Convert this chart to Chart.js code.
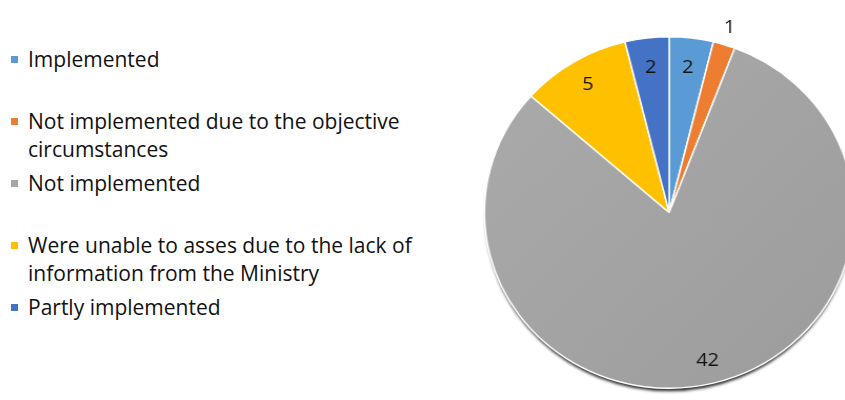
<!DOCTYPE html>
<html>
<head>
<meta charset="utf-8">
<script src="https://cdn.jsdelivr.net/npm/chart.js@4.4.1/dist/chart.umd.min.js"></script>
<style>
  html, body { margin: 0; padding: 0; background: #ffffff; overflow: hidden; width: 845px; height: 400px; }
  #legend { position: absolute; left: 11px; top: 45px; width: 440px; font-family: "Open Sans", Lato, sans-serif; font-size: 21px; color: #111111; }
  .item { position: relative; height: 62px; line-height: 28px; padding-left: 17px; }
  .sw { position: absolute; left: 0; top: 11px; width: 7px; height: 7px; }
  #wrap { position: absolute; left: 480px; top: 0; width: 360px; height: 400px; transform: scaleX(1.051); transform-origin: 0 0; }
</style>
</head>
<body>
<div id="legend"></div>
<div id="wrap"><canvas id="c" width="360" height="400"></canvas></div>
<script>
const categories = [
  "Implemented",
  "Not implemented due to the objective circumstances",
  "Not implemented",
  "Were unable to asses due to the lack of information from the Ministry",
  "Partly implemented"
];
const values = [2, 1, 42, 5, 2];
const colors = ["#5B9BD5", "#ED7D31", "#A5A5A5", "#FFC000", "#4472C4"];

// HTML legend built from the data arrays
const legendEl = document.getElementById('legend');
categories.forEach((name, i) => {
  const d = document.createElement('div');
  d.className = 'item';
  const s = document.createElement('span');
  s.className = 'sw';
  s.style.background = colors[i];
  d.appendChild(s);
  d.appendChild(document.createTextNode(name));
  legendEl.appendChild(d);
});

const shadowPlugin = {
  id: 'pieShadow',
  beforeDatasetsDraw(chart) {
    const arc = chart.getDatasetMeta(0).data[0];
    if (!arc) return;
    const ctx = chart.ctx;
    ctx.save();
    ctx.shadowColor = 'rgba(0,0,0,0.8)';
    ctx.shadowBlur = 3;
    ctx.shadowOffsetY = 4;
    ctx.beginPath();
    ctx.arc(arc.x, arc.y, arc.outerRadius - 1, 0, Math.PI * 2);
    ctx.fillStyle = '#ffffff';
    ctx.fill();
    ctx.restore();
  }
};

const labelPlugin = {
  id: 'sliceLabels',
  afterDatasetsDraw(chart, args, opts) {
    const ctx = chart.ctx;
    const meta = chart.getDatasetMeta(0);
    const data = chart.data.datasets[0].data;
    ctx.save();
    ctx.font = '19px "Open Sans", Lato, sans-serif';
    ctx.fillStyle = '#111111';
    ctx.textAlign = 'center';
    ctx.textBaseline = 'middle';
    meta.data.forEach((arc, i) => {
      const mid = (arc.startAngle + arc.endAngle) / 2;
      const f = opts.radiusFactor[i];
      const r = arc.outerRadius * f;
      const x = arc.x + Math.cos(mid) * r;
      const y = arc.y + Math.sin(mid) * r;
      ctx.fillText(String(data[i]), x, y);
    });
    ctx.restore();
  }
};

function sliceColor(c) {
  const i = c.dataIndex;
  const chart = c.chart;
  const area = chart.chartArea;
  if (i === 2 && area) {
    const g = chart.ctx.createLinearGradient(area.left, area.top, area.right, area.bottom);
    g.addColorStop(0, '#ABABAB');
    g.addColorStop(1, '#9C9C9C');
    return g;
  }
  return colors[i];
}

new Chart(document.getElementById('c'), {
  type: 'pie',
  data: {
    labels: categories,
    datasets: [{
      data: values,
      backgroundColor: sliceColor,
      borderColor: '#ffffff',
      borderWidth: 1.5,
      hoverOffset: 0
    }]
  },
  options: {
    responsive: false,
    animation: false,
    events: [],
    layout: { padding: { left: 0, right: 0, top: 36, bottom: 11 } },
    plugins: {
      legend: { display: false },
      tooltip: { enabled: false },
      sliceLabels: { radiusFactor: [0.83, 1.1, 0.87, 0.85, 0.83] }
    }
  },
  plugins: [shadowPlugin, labelPlugin]
});
</script>
</body>
</html>
